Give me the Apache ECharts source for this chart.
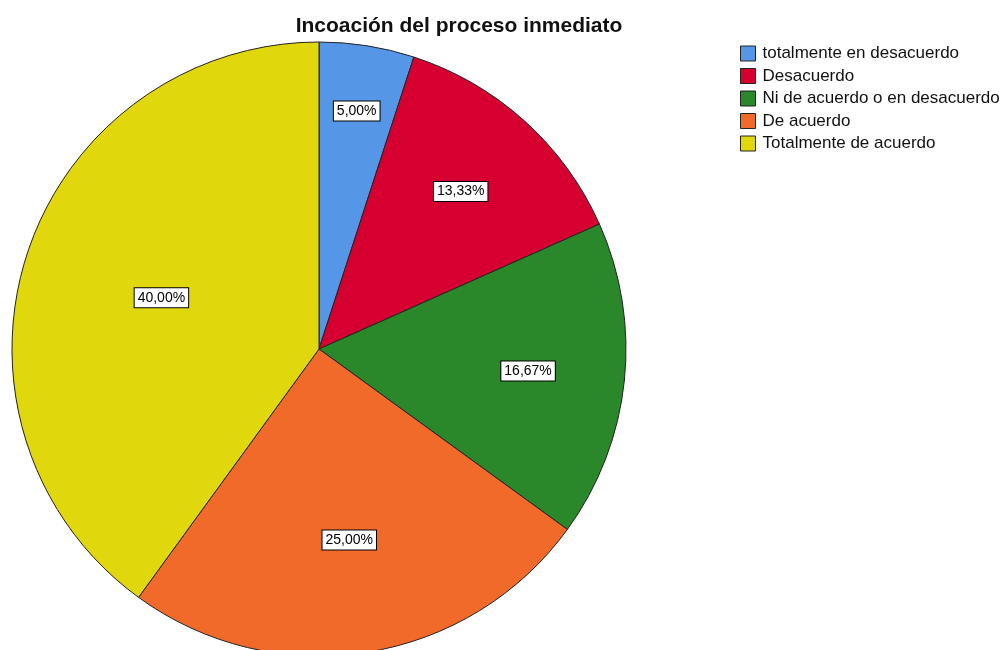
<!DOCTYPE html>
<html><head><meta charset="utf-8">
<script src="https://cdn.jsdelivr.net/npm/echarts@6/dist/echarts.min.js"></script>
<style>html,body{margin:0;padding:0;background:#fff}#c{width:1003px;height:650px}</style>
</head><body><div id="c"></div>
<script>
const categories = ['totalmente en desacuerdo','Desacuerdo','Ni de acuerdo o en desacuerdo','De acuerdo','Totalmente de acuerdo'];
const percents = [5.00, 13.33, 16.67, 25.00, 40.00];
const colors = ['#5596e6','#d5002f','#2a872a','#f26a2a','#e1d70d'];
const titleText = 'Incoación del proceso inmediato';
// label distance from centre, as fraction of radius (style)
const labelRadiusFrac = [0.775, 0.68, 0.675, 0.62, 0.53];

const R = 307;
const chart = echarts.init(document.getElementById('c'), null, {renderer:'canvas'});
const fmt = v => v.toFixed(2).replace('.', ',') + '%';
const total = percents.reduce((a,b)=>a+b,0);
const midAngles = [];
{ let acc = 0; percents.forEach(v => { midAngles.push((acc + v/2)/total*2*Math.PI); acc += v; }); }
const mainData = categories.map((n,i)=>({name:n, value:percents[i], itemStyle:{color:colors[i]}}));
chart.setOption({
  animation:false,
  title:{text:titleText, left:454, top:11, textAlign:'center',
    textStyle:{fontFamily:'Liberation Sans, Arial', fontSize:21, fontWeight:'bold', color:'#111'}},
  legend:{orient:'vertical', left:740, top:45, padding:0, itemWidth:15, itemHeight:15, itemGap:5.5,
    icon:'rect', data:categories,
    itemStyle:{borderColor:'#222', borderWidth:1},
    textStyle:{fontFamily:'Liberation Sans, Arial', fontSize:17, lineHeight:16, color:'#111', padding:[0,0,0,2]}},
  series:[
    {type:'pie', center:[319,349], radius:[0,R], startAngle:90, clockwise:true,
     data:mainData, silent:true, labelLine:{show:false},
     itemStyle:{borderColor:'#222', borderWidth:1},
     label:{show:true, position:'inside', formatter:p=>fmt(p.value),
       fontFamily:'Liberation Sans, Arial', fontSize:14, color:'#000',
       backgroundColor:'#fff', borderColor:'#000', borderWidth:1, padding:[3,3,2,3]},
     labelLayout: function(params){
       const i = params.dataIndex;
       const extra = (labelRadiusFrac[i] - 0.5) * R;
       return {dx: extra*Math.sin(midAngles[i]), dy: -extra*Math.cos(midAngles[i])};
     }}
  ]
});
</script></body></html>
